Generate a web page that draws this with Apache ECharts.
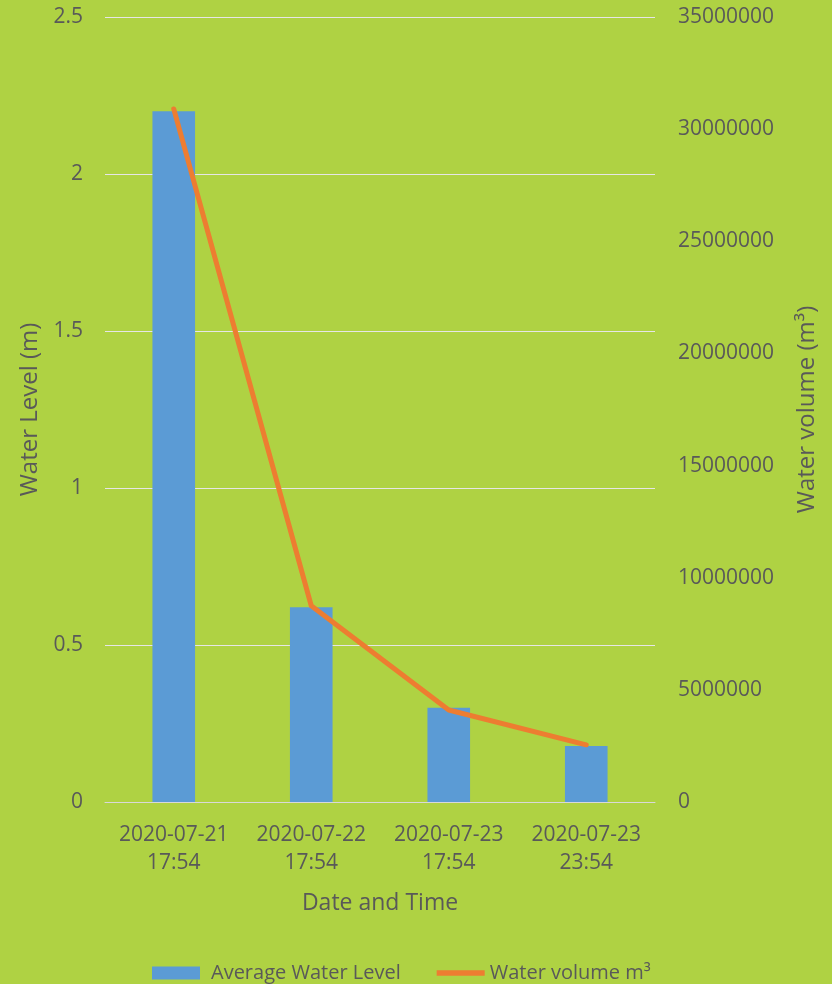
<!DOCTYPE html>
<html>
<head>
<meta charset="utf-8">
<script src="https://cdn.jsdelivr.net/npm/echarts@6/dist/echarts.min.js"></script>
<style>
html,body{margin:0;padding:0;background:#AFD243;}
#chart{width:832px;height:984px;}
</style>
</head>
<body>
<div id="chart"></div>
<script>
var categories = ['2020-07-21\n17:54', '2020-07-22\n17:54', '2020-07-23\n17:54', '2020-07-23\n23:54'];
var waterLevel = [2.2, 0.62, 0.30, 0.178];
var waterVolume = [30900000, 8750000, 4100000, 2550000];

var textColor = '#595959';
var font = 'Open Sans';
var chart = echarts.init(document.getElementById('chart'));
chart.setOption({
  backgroundColor: '#AFD243',
  textStyle: {fontFamily: font},
  grid: {left: 105, right: 177, top: 17, bottom: 182},
  legend: {
    top: 958,
    left: 147,
    itemGap: 36,
    itemWidth: 48,
    itemHeight: 13,
    textStyle: {color: textColor, fontSize: 20, fontFamily: font},
    data: [
      {name: 'Average Water Level', icon: 'rect', textStyle: {padding: [0, 0, 0, 6]}},
      {name: 'Water volume m³', icon: 'path://M0,0H52V6H0Z'}
    ]
  },
  xAxis: {
    type: 'category',
    data: categories,
    name: 'Date and Time',
    nameLocation: 'middle',
    nameGap: 90,
    nameTextStyle: {color: textColor, fontSize: 23, fontFamily: font},
    axisLine: {show: true, lineStyle: {color: '#D9D9D9', width: 1}},
    axisTick: {show: false},
    axisLabel: {color: textColor, fontSize: 21, lineHeight: 28, margin: 19, interval: 0, fontFamily: font}
  },
  yAxis: [
    {
      type: 'value',
      min: 0, max: 2.5, interval: 0.5,
      name: 'Water Level (m)',
      nameLocation: 'middle',
      nameGap: 60,
      nameTextStyle: {color: textColor, fontSize: 24, fontFamily: font},
      axisLine: {show: false},
      axisTick: {show: false},
      axisLabel: {color: textColor, fontSize: 21, margin: 22, fontFamily: font},
      splitLine: {show: true, lineStyle: {color: '#E6E6E6', width: 1}}
    },
    {
      type: 'value',
      min: 0, max: 35000000, interval: 5000000,
      name: 'Water volume (m³)',
      nameLocation: 'middle',
      nameGap: 140,
      nameRotate: 90,
      nameTextStyle: {color: textColor, fontSize: 24, fontFamily: font},
      axisLine: {show: false},
      axisTick: {show: false},
      axisLabel: {color: textColor, fontSize: 21, margin: 23, fontFamily: font,
        formatter: function (v) { return String(v); }},
      splitLine: {show: false}
    }
  ],
  series: [
    {
      name: 'Average Water Level',
      type: 'bar',
      data: waterLevel,
      yAxisIndex: 0,
      barWidth: '31%',
      itemStyle: {color: '#5B9BD5'}
    },
    {
      name: 'Water volume m³',
      type: 'line',
      data: waterVolume,
      yAxisIndex: 1,
      symbol: 'none',
      lineStyle: {color: '#ED7D31', width: 5, cap: 'round', join: 'round'},
      itemStyle: {color: '#ED7D31'}
    }
  ],
  animation: false
});
</script>
</body>
</html>
